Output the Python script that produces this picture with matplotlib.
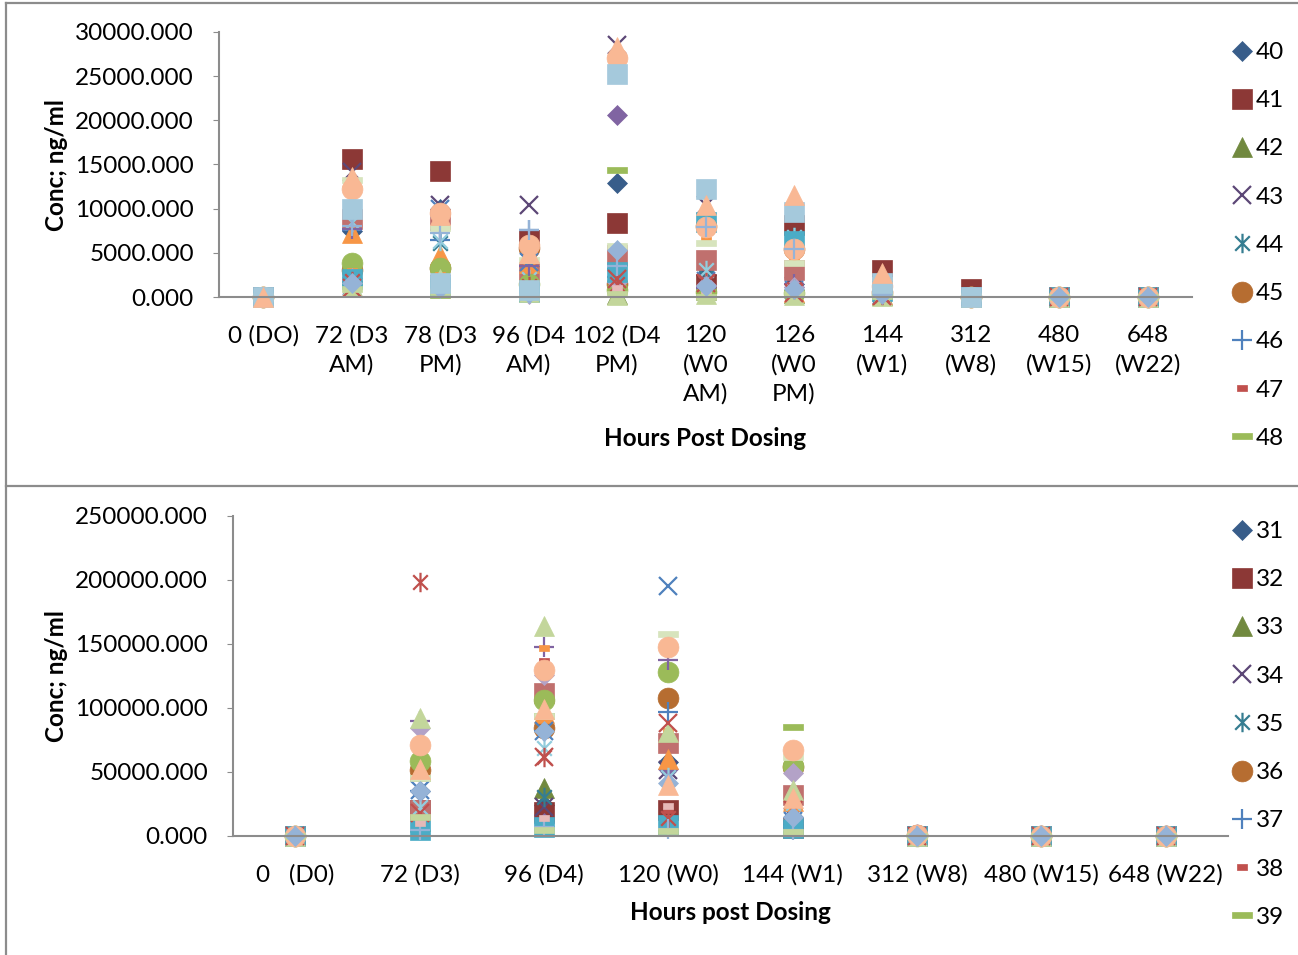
import matplotlib
matplotlib.use("Agg")
import matplotlib.pyplot as plt
from matplotlib.path import Path
from matplotlib.lines import Line2D
import numpy as np

plt.rcParams['font.family'] = ['Lato', 'DejaVu Sans']

nan = np.nan

# ---- data ----
top_cats = ['0 (DO)', '72 (D3\nAM)', '78 (D3\nPM)', '96 (D4\nAM)', '102 (D4\nPM)',
            '120\n(W0\nAM)', '126\n(W0\nPM)', '144\n(W1)', '312\n(W8)', '480\n(W15)', '648\n(W22)']
bot_cats = ['0   (D0)', '72 (D3)', '96 (D4)', '120 (W0)', '144 (W1)',
            '312 (W8)', '480 (W15)', '648 (W22)']

top_names = [str(n) for n in range(40, 70)]
bot_names = [str(n) for n in range(31, 61)]

top_vals = [
    [0, 7500, 10000, 3500, 12900, 2500, 1500, 400, 50, 0, 0],
    [0, 15600, 14300, 6400, 8400, 1500, 8200, 3100, 900, 0, 0],
    [0, 2500, 3200, 1000, 300, 800, 500, 200, 0, 0, 0],
    [0, 14100, 10400, 10400, 28500, 10400, 1200, 500, 0, 0, 0],
    [0, 2000, 6100, 2500, 3000, 2300, 6800, 800, 50, 0, 0],
    [0, 3000, 3300, 5500, 1500, 8000, 5400, 600, 0, 0, 0],
    [0, 7600, 6500, 7600, 3200, 7900, 5400, 300, 0, 0, 0],
    [0, 1500, 2000, 1000, 2500, 1200, 800, 300, 600, 0, 0],
    [0, 1500, 200, 0, 14400, 200, 500, 100, 0, 0, 0],
    [0, 1800, 2500, 1800, 20600, 1000, 1100, 500, 0, 0, 0],
    [0, 8800, 8800, 2800, 4700, 4200, 3100, 1000, 0, 0, 0],
    [0, 7200, 4700, 3800, 2000, 900, 600, 300, 0, 0, 0],
    [0, 1200, 10000, 4000, 2000, 1800, 800, 200, 0, 0, 0],
    [0, 8500, 6300, 2000, 1200, 3000, 6800, 1000, 0, 0, 0],
    [0, 3800, 3300, 1500, 800, 600, 400, 200, 0, 0, 0],
    [0, 7700, 7600, 3500, 2300, 1000, 1500, 200, 0, 0, 0],
    [0, 2900, 2500, 1500, 1000, 6500, 4400, 500, 0, 0, 0],
    [0, 13200, 7800, 4200, 5800, 6100, 3900, 1900, 0, 0, 0],
    [0, 2100, 1800, 300, 1700, 1400, 1100, 800, 0, 0, 0],
    [0, 2000, 1200, 600, 2800, 8500, 6300, 700, 0, 0, 0],
    [0, 1300, 2000, 600, 200, 300, 200, 100, 0, 0, 0],
    [0, 1000, 1500, 700, 2000, 1600, 500, 100, 0, 0, 0],
    [0, 1800, 1100, 1300, 1500, 1700, 900, 200, 0, 0, 0],
    [0, 12200, 9500, 5900, 27000, 7900, 5400, 1200, 0, 0, 0],
    [0, 8000, 7300, 7600, 3500, 7900, 5400, 500, 0, 0, 0],
    [0, 1200, 900, 500, 1000, 800, 600, 400, 0, 0, 0],
    [0, 900, 600, 0, 300, 0, 300, 100, 0, 0, 0],
    [0, 1600, 1000, 500, 5300, 1200, 900, 300, 0, 0, 0],
    [0, 10000, 1600, 800, 25300, 12200, 9600, 1600, 0, nan, nan],
    [0, 13600, 9300, 5000, 28300, 10400, 11500, 2700, nan, nan, nan],
]

bot_vals = [
    [0, 35000, 24000, 57800, 14800, 500, 0, 0],
    [0, 20300, 18700, 20300, 6200, 300, 0, 0],
    [0, 12000, 37500, 9000, 11000, 0, 0, 0],
    [0, 9000, 22600, 51500, 15000, 0, 0, 0],
    [0, 8000, 30500, 45000, 12000, 0, 0, 0],
    [0, 51500, 84000, 107800, 53900, 500, 0, 0],
    [0, 35000, 82000, 96800, 8000, 0, 0, 0],
    [0, 12000, 136700, 20300, 30000, 0, 0, 0],
    [0, 45000, 93700, 3000, 85000, 0, 0, 0],
    [0, 14000, 10000, 52000, 10000, 0, 0, 0],
    [0, 20300, 111700, 72600, 32000, 0, 0, 0],
    [0, 51500, 96000, 60000, 27000, 0, 0, 0],
    [0, 36000, 82000, 195000, 12000, 0, 0, 0],
    [0, 22600, 68700, 46000, 25800, 0, 0, 0],
    [0, 58600, 106000, 128000, 55000, 0, 0, 0],
    [0, 90000, 147600, 137500, 10000, 0, 0, 0],
    [0, 49000, 147000, 82000, 27000, 0, 0, 0],
    [0, 45000, 93700, 157700, 61700, 0, 0, 0],
    [0, 84000, 125700, 147600, 49200, 1500, 800, 500],
    [0, 4700, 7000, 8600, 6200, 0, 0, 0],
    [0, 92000, 164000, 81000, 35900, 0, 0, 0],
    [0, 18000, 61700, 88000, 20000, 0, 0, 0],
    [0, 198400, 61700, 14000, 20000, 0, 0, 0],
    [0, 71000, 129600, 147600, 67000, 1000, 0, 0],
    [0, 5000, 7000, 5500, 5000, 0, 0, 0],
    [0, 10000, 14000, 23400, 14000, 0, 0, 0],
    [0, 15000, 5000, 4000, 3000, 0, 0, 0],
    [0, 35000, 82000, 41400, 14800, 0, 0, 0],
    [nan, nan, nan, nan, nan, nan, nan, nan],
    [nan, 52000, 99000, 40000, 30000, nan, nan, nan],
]

# ---- Excel-like marker styles ----
ast = Path([(0, -1), (0, 1), (-0.75, -0.75), (0.75, 0.75), (-0.75, 0.75), (0.75, -0.75)],
           [Path.MOVETO, Path.LINETO, Path.MOVETO, Path.LINETO, Path.MOVETO, Path.LINETO])
short_dash = Path([(-1, -0.5), (1, -0.5), (1, 0.5), (-1, 0.5), (-1, -0.5)], closed=True)
long_dash = Path([(-1, -0.27), (1, -0.27), (1, 0.27), (-1, 0.27), (-1, -0.27)], closed=True)

# marker, size, filled
marker_cycle = [('D', 10.5, True), ('s', 14, True), ('^', 14, True), ('x', 13, False),
                (ast, 14, False), ('o', 15, True), ('+', 15, False),
                (short_dash, 7.5, True), (long_dash, 15, True)]
colors = ['#385D8A', '#8C3836', '#71893F', '#5C4776', '#357D91', '#B66D31', '#4F81BD',
          '#C0504D', '#9BBB59', '#8064A2', '#C0706E', '#F79646', '#4F81BD', '#93CDDD',
          '#9BBB59', '#8064A2', '#F79646', '#D7E4BD', '#B3A2C7', '#4BACC6', '#C3D69B',
          '#C0504D', '#C0504D', '#F9B894', '#95B3D7', '#E6B9B8', '#C3D69B', '#95B3D7',
          '#A5C9DC', '#F9B894']

W, H = 1298, 955
fig = plt.figure(figsize=(W / 100, H / 100), dpi=100)
FS = 17.5


def draw_panel(rect, cats, vals, names, ymax, ystep, xlabel, xlab_y, ylab_y, leg_top):
    ax = fig.add_axes(rect)
    x = np.arange(len(cats))
    handles = []
    for i, v in enumerate(vals):
        m, ms, filled = marker_cycle[i % 9]
        c = colors[i]
        if filled:
            ln, = ax.plot(x, v, linestyle='none', marker=m, ms=ms, color=c,
                          markeredgecolor=c, markeredgewidth=0.5, clip_on=False, label=names[i])
        else:
            ln, = ax.plot(x, v, linestyle='none', marker=m, ms=ms, color=c,
                          markerfacecolor='none', markeredgecolor=c, markeredgewidth=1.6,
                          clip_on=False, label=names[i])
        handles.append(ln)
    ax.set_xlim(-0.5, len(cats) - 0.5)
    ax.set_ylim(0, ymax)
    ax.set_yticks(np.arange(0, ymax + 1, ystep))
    ax.set_yticklabels(['%.3f' % t for t in np.arange(0, ymax + 1, ystep)])
    ax.set_xticks(x)
    ax.set_xticklabels(cats, linespacing=1.45)
    for s in ['top', 'right']:
        ax.spines[s].set_visible(False)
    for s in ['left', 'bottom']:
        ax.spines[s].set_color('#8C8C8C')
        ax.spines[s].set_linewidth(1.5)
    ax.tick_params(axis='x', length=0, pad=20, labelsize=FS)
    ax.tick_params(axis='y', length=4, color='#8C8C8C', pad=14, labelsize=FS)
    fig.text(rect[0] + rect[2] / 2, 1 - xlab_y / H, xlabel, ha='center', va='center',
             fontsize=FS, fontweight='bold')
    fig.text(57 / W, 1 - ylab_y / H, 'Conc; ng/ml', rotation=90, ha='center', va='center',
             fontsize=FS, fontweight='bold')
    fig.legend(handles=handles[:9], loc='upper left',
               bbox_to_anchor=(1230 / W, 1 - leg_top / H), frameon=False,
               fontsize=FS, handlelength=1.0, handletextpad=0.05,
               labelspacing=1.12, borderaxespad=0, borderpad=0)
    return ax


draw_panel([219 / W, 1 - 297 / H, 973 / W, 265 / H], top_cats, top_vals, top_names,
           30000, 5000, 'Hours Post Dosing', 438, 165, 42)
draw_panel([233 / W, 1 - 836 / H, 995 / W, 320 / H], bot_cats, bot_vals, bot_names,
           250000, 50000, 'Hours post Dosing', 912, 676, 521)

# document frame lines
fr = dict(color='#8C8C8C', linewidth=1.6, transform=fig.transFigure)
fig.add_artist(Line2D([6 / W, 1], [1 - 3 / H, 1 - 3 / H], **fr))
fig.add_artist(Line2D([6 / W, 6 / W], [0, 1 - 3 / H], **fr))
fig.add_artist(Line2D([6 / W, 1], [1 - 486 / H, 1 - 486 / H], **fr))

fig.savefig('out.png', dpi=100)
